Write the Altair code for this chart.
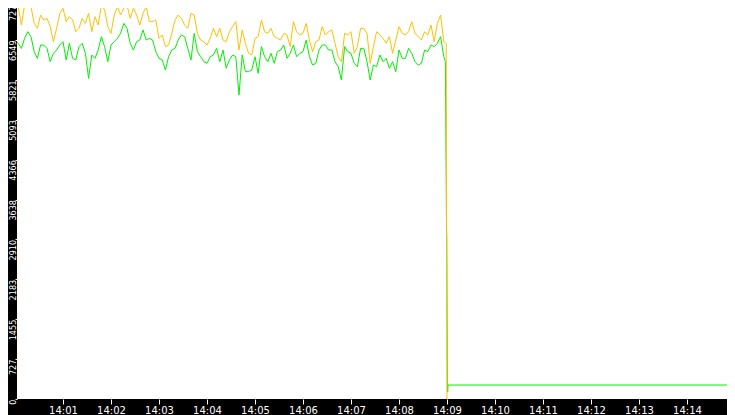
import altair as alt
import pandas as pd

# ---- data ----
start = "2024-01-01T14:00:00"
step_seconds = 4

orange_vals = [
    7095, 7155, 6821, 7186, 7216, 7155, 6851, 6760, 7003, 6912,
    6943, 6791, 6517, 6760, 7034, 7125, 6882, 6973, 6912, 6699,
    6760, 6943, 6851, 7034, 6699, 6973, 6821, 7186, 7095, 6791,
    6669, 7003, 7155, 7003, 7125,
    7186, 6943, 7125, 7003, 6821, 7034, 7155, 6882, 6882, 6912,
    6578, 6639, 6426, 6456, 6669, 6912, 7003, 6943, 6821, 6760,
    7034, 7003, 6669, 6547, 6517, 6456, 6578, 6760, 6608, 6760,
    6547, 6517, 6699, 6791,
    6882, 6365, 6730, 6487, 6304, 6274, 6578, 6608, 6912, 6699,
    6669, 6760, 6608, 6578, 6547, 6669, 6639, 6426, 6882, 6699,
    6639, 6669, 6851, 6547, 6335, 6517, 6547, 6791, 6639, 6699,
    6730, 6487, 6243, 6152, 6669,
    6639, 6699, 6304, 6426, 6760, 6760, 6669, 6122, 6426, 6699,
    6639, 6578, 6487, 6608, 6304, 6547, 6791, 6669, 6639, 6699,
    6882, 6669, 6608, 6547, 6699, 6639, 6821, 6517, 6851, 7003,
    6517,
]
green_vals = [
    6547, 6487, 6395, 6578, 6699, 6608, 6335, 6213, 6456, 6456,
    6395, 6152, 6304, 6365, 6456, 6517, 6183, 6487, 6213, 6183,
    6426, 6487, 6304, 5848, 6274, 6213, 6365, 6608, 6426, 6152,
    6456, 6517, 6578, 6669, 6851,
    6760, 6487, 6365, 6517, 6547, 6730, 6547, 6578, 6547, 6335,
    6213, 6183, 6000, 6243, 6365, 6395, 6547, 6639, 6608, 6395,
    6183, 6669, 6335, 6243, 6152, 6122, 6243, 6274, 6395, 6152,
    6365, 6031, 6183, 6274,
    6243, 5544, 6274, 5970, 5970, 6000, 6243, 5939, 6426, 6243,
    6152, 6304, 6122, 6335, 6365, 6456, 6213, 6304, 6456, 6243,
    6304, 6335, 6547, 6243, 6091, 6122, 6365, 6456, 6456, 6365,
    6365, 6152, 6061, 5818, 6426,
    6335, 6304, 6122, 6061, 6395, 6395, 6152, 5818, 6091, 6061,
    6274, 6152, 6213, 6031, 6152, 5970, 6365, 6213, 6213, 6395,
    6304, 6152, 6091, 6122, 6365, 6335, 6456, 6426, 6487, 6608,
    6243,
]

orange_tail_times = ["2024-01-01T14:08:59", "2024-01-01T14:09:00"]
orange_tail_vals = [6487, 0]
green_tail_times = ["2024-01-01T14:08:58", "2024-01-01T14:08:59.400", "2024-01-01T14:08:59.700",
                    "2024-01-01T14:09:00.500", "2024-01-01T14:09:01", "2024-01-01T14:09:01.200",
                    "2024-01-01T14:15:00"]
green_tail_vals = [6152, 3100, 2950, 130, 130, 255, 255]

x_tick_minutes = [1, 2, 3, 4, 5, 6, 7, 8, 9, 10, 11, 12, 13, 14]
y_max = 7277.05
y_tick_count = 10

# ---- build tables ----
t0 = pd.Timestamp(start)
def base_times(n):
    return [(t0 + pd.Timedelta(seconds=step_seconds * i)).strftime("%Y-%m-%dT%H:%M:%S") + "Z" for i in range(n)]

orange_df = pd.DataFrame({
    "t": base_times(len(orange_vals)) + [s + "Z" for s in orange_tail_times],
    "v": orange_vals + orange_tail_vals,
})
green_df = pd.DataFrame({
    "t": base_times(len(green_vals)) + [s + "Z" for s in green_tail_times],
    "v": green_vals + green_tail_vals,
})

# layout: chart is 719 wide (fits with the page's 8px margin) and 407 tall
PAD_L = 9
PAD_B = 16
PLOT_W = 719 - PAD_L
PLOT_H = 407 - PAD_B
x_range = [-2, 718]
y_range = [PLOT_H, -8]

x_ticks = [alt.DateTime(year=2024, month=1, date=1, hours=14, minutes=m, utc=True) for m in x_tick_minutes]
y_ticks = [y_max * i / y_tick_count for i in range(y_tick_count + 1)]

x_enc = alt.X("t:T", scale=alt.Scale(type="utc", range=x_range,
                                     domain=[alt.DateTime(year=2024, month=1, date=1, hours=14, minutes=0, utc=True),
                                             alt.DateTime(year=2024, month=1, date=1, hours=14, minutes=15, utc=True)]),
              axis=alt.Axis(values=x_ticks, labelExpr="utcFormat(datum.value, '%H:%M')",
                            title=None, grid=False, domain=False, tickColor="white", tickSize=5,
                            labelColor="white", labelFont="DejaVu Sans", labelFontSize=10,
                            labelBaseline="alphabetic", labelPadding=9,
                            labelFlush=False, labelOverlap=False, labelBound=False))
y_enc = alt.Y("v:Q", scale=alt.Scale(domain=[0, y_max], nice=False, zero=True, range=y_range),
              axis=alt.Axis(values=y_ticks, labelExpr="floor(datum.value)", title=None, grid=False,
                            domain=False, tickColor="white", tickSize=2, labelColor="white",
                            labelFont="Liberation Sans Narrow, DejaVu Sans Condensed, sans-serif",
                            labelFontSize=9, labelAngle=270, labelAlign="right",
                            labelBaseline="alphabetic", labelPadding=0, labelFlush=False,
                            labelOverlap=False, labelBound=False))

green_line = alt.Chart(green_df).mark_line(color="#00F000", strokeWidth=1, clip=True).encode(x=x_enc, y=y_enc)
orange_line = alt.Chart(orange_df).mark_line(color="#FFC000", strokeWidth=1, clip=True).encode(x=x_enc, y=y_enc)

chart = alt.layer(green_line, orange_line).properties(
    width=PLOT_W, height=PLOT_H,
    background="black",
    padding={"left": PAD_L, "top": 0, "right": 0, "bottom": PAD_B},
    autosize=alt.AutoSizeParams(type="none"),
).configure_view(fill="white", stroke=None)

chart.save("out.html", embed_options={"renderer": "svg", "actions": False})
